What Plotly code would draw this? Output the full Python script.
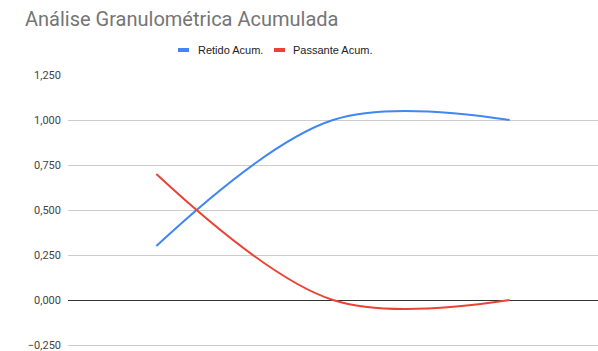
import plotly.graph_objects as go

# Cumulative granulometric analysis data
categories = [0, 1, 2]
retido_acum = [0.3, 1.0, 1.0]
passante_acum = [0.7, 0.0, 0.0]
tick_values = [-0.25, 0.0, 0.25, 0.5, 0.75, 1.0, 1.25]

BLUE = "#4285F4"
RED = "#EA4335"

series = [("Retido Acum.", retido_acum, BLUE), ("Passante Acum.", passante_acum, RED)]

fig = go.Figure()
for name, values, color in series:
    fig.add_trace(go.Scatter(
        x=categories, y=values, mode="lines", name=name,
        line=dict(color=color, width=2, shape="spline", smoothing=1),
        showlegend=False, hoverinfo="skip",
    ))

# plot area in pixels (180 px per unit on the value axis)
W, H = 598, 351
L, R, T, B = 68, 0, 75, 2
pw, ph = W - L - R, H - T - B
y_min = 1.25 - ph / 180


def px_x(x):
    return (x - L) / pw


def px_y(y):
    return (H - B - y) / ph


# compact legend: short swatch followed by label
legend_y = 50
legend_items = [(178, 196), (274, 291)]
shapes = []
annotations = []
for (sx, tx), (name, _, color) in zip(legend_items, series):
    shapes.append(dict(
        type="rect", xref="paper", yref="paper",
        x0=px_x(sx), x1=px_x(sx + 11),
        y0=px_y(legend_y + 2), y1=px_y(legend_y - 2),
        fillcolor=color, line=dict(width=0),
    ))
    annotations.append(dict(
        text=name, xref="paper", yref="paper",
        x=px_x(tx), y=px_y(legend_y), xanchor="left", yanchor="middle",
        showarrow=False,
        font=dict(size=11, color="#222222", family="Liberation Sans, Arial, sans-serif"),
    ))

fig.update_layout(
    width=W, height=H,
    margin=dict(l=L, r=R, t=T, b=B),
    paper_bgcolor="white", plot_bgcolor="white",
    separators=",.",
    showlegend=False,
    shapes=shapes, annotations=annotations,
    font=dict(family="Roboto, Arial, sans-serif", color="#444444", size=11),
    title=dict(
        text="Análise Granulométrica Acumulada",
        x=25 / W, xanchor="left", xref="container",
        y=1 - 19 / H, yanchor="middle", yref="container",
        font=dict(size=20, color="#757575", family="Roboto, Arial, sans-serif"),
    ),
    xaxis=dict(
        type="linear", range=[-0.5, 2.5], showgrid=False, zeroline=False,
        showticklabels=False, showline=False, ticks="",
    ),
    yaxis=dict(
        range=[y_min, 1.25], tickvals=tick_values, tickformat=".3f",
        showgrid=True, gridcolor="#cccccc", gridwidth=1,
        zeroline=True, zerolinecolor="#333333", zerolinewidth=1,
        showline=False, ticks="", ticklabelstandoff=6,
        ticklabeloverflow="allow",
        tickfont=dict(size=11, color="#444444"),
    ),
)

fig.write_html("out.html")
